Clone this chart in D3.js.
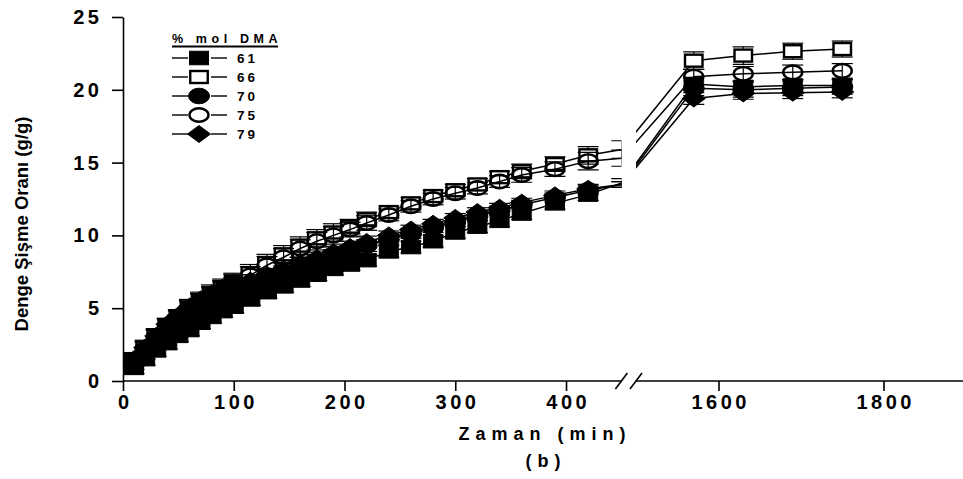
<!DOCTYPE html>
<html>
<head>
<meta charset="utf-8">
<script src="https://cdn.jsdelivr.net/npm/d3@7"></script>
<style>
  body { margin: 0; background: #fff; }
  svg { display: block; }
  text { font-family: "Liberation Sans", Arial, sans-serif; font-weight: bold; fill: #000; }
</style>
</head>
<body>
<svg id="chart" width="963" height="479"></svg>
<script>
// Sampling times (min); 480 sits inside the axis break, 1570+ are on the right segment
const times = [10, 20, 30, 40, 50, 60, 70, 80, 90, 100, 115, 130, 145, 160, 175, 190, 205, 220,
  240, 260, 280, 300, 320, 340, 360, 390, 420, 480, 1570, 1630, 1690, 1750];

// % mol DMA series
const seriesNames = ["61", "66", "70", "75", "79"];

const swell61 = [0.9, 1.5, 2.1, 2.6, 3.1, 3.5, 4.0, 4.4, 4.8, 5.1, 5.6, 6.1, 6.5, 6.9, 7.3, 7.7, 8.0, 8.3,
  8.9, 9.2, 9.6, 10.2, 10.6, 11.0, 11.5, 12.2, 12.8, 13.6, 20.4, 20.2, 20.3, 20.3];
const swell66 = [1.5, 2.3, 3.1, 3.8, 4.4, 5.0, 5.5, 6.0, 6.4, 6.8, 7.4, 8.1, 8.7, 9.3, 9.8, 10.2, 10.6, 11.1,
  11.6, 12.2, 12.7, 13.1, 13.5, 14.0, 14.4, 14.9, 15.5, 15.9, 22.0, 22.35, 22.65, 22.8];
const swell70 = [1.2, 1.9, 2.6, 3.2, 3.8, 4.3, 4.8, 5.2, 5.6, 6.0, 6.5, 7.0, 7.4, 7.8, 8.2, 8.6, 8.9, 9.3,
  9.7, 10.1, 10.5, 10.9, 11.3, 11.7, 12.1, 12.6, 13.1, 13.5, 20.1, 20.0, 20.1, 20.2];
const swell75 = [1.4, 2.2, 3.0, 3.7, 4.3, 4.9, 5.4, 5.9, 6.3, 6.7, 7.25, 7.95, 8.5, 9.1, 9.6, 10.0, 10.4, 10.85,
  11.4, 12.0, 12.5, 12.9, 13.25, 13.7, 14.15, 14.55, 15.1, 15.3, 20.9, 21.1, 21.2, 21.3];
const swell79 = [1.5, 2.3, 3.1, 3.9, 4.5, 5.1, 5.6, 6.0, 6.4, 6.7, 6.9, 7.3, 7.7, 8.1, 8.45, 8.85, 9.2, 9.55,
  10.0, 10.4, 10.8, 11.2, 11.6, 11.9, 12.25, 12.75, 13.2, 13.5, 19.4, 19.75, 19.8, 19.85];

// standard deviations
const err61 = [0.4, 0.4, 0.4, 0.4, 0.4, 0.4, 0.4, 0.4, 0.4, 0.4, 0.4, 0.4, 0.4, 0.4, 0.4, 0.4, 0.4, 0.4,
  0.4, 0.4, 0.4, 0.4, 0.4, 0.4, 0.4, 0.4, 0.4, 0.3, 0.4, 0.4, 0.4, 0.4];
const err66 = [0.4, 0.5, 0.5, 0.5, 0.5, 0.6, 0.6, 0.6, 0.6, 0.6, 0.6, 0.6, 0.6, 0.6, 0.6, 0.6, 0.5, 0.5,
  0.4, 0.4, 0.4, 0.4, 0.4, 0.4, 0.5, 0.5, 0.6, 0.6, 0.6, 0.6, 0.55, 0.55];
const err70 = [0.4, 0.4, 0.4, 0.4, 0.4, 0.4, 0.4, 0.4, 0.4, 0.4, 0.4, 0.4, 0.4, 0.4, 0.4, 0.4, 0.4, 0.4,
  0.3, 0.3, 0.3, 0.3, 0.3, 0.3, 0.3, 0.3, 0.3, 0.2, 0.5, 0.5, 0.5, 0.5];
const err75 = [0.4, 0.5, 0.5, 0.5, 0.5, 0.6, 0.6, 0.6, 0.6, 0.6, 0.6, 0.6, 0.6, 0.6, 0.6, 0.6, 0.5, 0.5,
  0.4, 0.4, 0.4, 0.4, 0.4, 0.4, 0.5, 0.5, 0.6, 0.55, 0.5, 0.5, 0.5, 0.5];
const err79 = [0.4, 0.4, 0.4, 0.4, 0.4, 0.4, 0.4, 0.4, 0.4, 0.4, 0.4, 0.4, 0.4, 0.4, 0.4, 0.4, 0.4, 0.4,
  0.3, 0.3, 0.3, 0.3, 0.3, 0.3, 0.3, 0.3, 0.3, 0.2, 0.4, 0.4, 0.4, 0.4];

const xTicks = [0, 100, 200, 300, 400, 1600, 1800];
const yTicks = [0, 5, 10, 15, 20, 25];

const values = [swell61, swell66, swell70, swell75, swell79];
const errors = [err61, err66, err70, err75, err79];
const symbols = ["square-filled", "square-open", "circle-filled", "circle-open", "diamond-filled"];

const svg = d3.select("#chart");
svg.append("rect").attr("width", 963).attr("height", 479).attr("fill", "#fff");

// broken x axis: 0-450 and 1500-1900
const x = d3.scaleLinear().domain([0, 450, 1500, 1900]).range([123, 621.4, 636, 966]);
const y = d3.scaleLinear().domain([0, 25]).range([381, 17]);

const leftEnd = x(450), rightStart = x(1500);

// clip to both axis segments
const clip = svg.append("defs").append("clipPath").attr("id", "plotClip");
clip.append("rect").attr("x", x(0)).attr("y", 0).attr("width", leftEnd - x(0)).attr("height", 479);
clip.append("rect").attr("x", rightStart).attr("y", 0).attr("width", 963 - rightStart).attr("height", 479);

// symbol helper
function drawSymbol(g, kind, cx, cy, openFill) {
  const filled = kind.endsWith("filled");
  const sw = filled ? 1 : 2.4;
  if (kind.startsWith("square")) {
    const w = filled ? 19 : 17.5, h = filled ? 13.5 : 12;
    g.append("rect")
      .attr("x", cx - w / 2).attr("y", cy - h / 2)
      .attr("width", w).attr("height", h)
      .attr("fill", filled ? "#000" : "#fff")
      .attr("stroke", "#000").attr("stroke-width", sw);
  } else if (kind.startsWith("circle")) {
    g.append("ellipse")
      .attr("cx", cx).attr("cy", cy)
      .attr("rx", filled ? 10.5 : 9.5).attr("ry", filled ? 7.8 : 6.8)
      .attr("fill", filled ? "#000" : (openFill || "none"))
      .attr("stroke", "#000").attr("stroke-width", sw);
  } else {
    g.append("path")
      .attr("d", `M${cx - 11.5},${cy} L${cx},${cy - 8.5} L${cx + 11.5},${cy} L${cx},${cy + 8.5} Z`)
      .attr("fill", "#000").attr("stroke", "#000").attr("stroke-width", 1);
  }
}

const plot = svg.append("g").attr("clip-path", "url(#plotClip)");

values.forEach((vals, si) => {
  const pts = times.map((t, i) => ({ t, v: vals[i], e: errors[si][i] }));
  const g = plot.append("g").attr("class", "series-" + seriesNames[si]);

  g.append("path")
    .datum(pts)
    .attr("d", d3.line().x(d => x(d.t)).y(d => y(d.v)))
    .attr("fill", "none")
    .attr("stroke", "#000")
    .attr("stroke-width", 1.5);

  pts.forEach(d => {
    const cx = x(d.t);
    g.append("line").attr("x1", cx).attr("x2", cx)
      .attr("y1", y(d.v - d.e)).attr("y2", y(d.v + d.e))
      .attr("stroke", "#000").attr("stroke-width", 1.2);
    [d.v - d.e, d.v + d.e].forEach(v => {
      g.append("line").attr("x1", cx - 10.5).attr("x2", cx + 10.5)
        .attr("y1", y(v)).attr("y2", y(v))
        .attr("stroke", "#000").attr("stroke-width", 1.2);
    });
  });

  // symbols only for points that lie on a drawn axis segment
  pts.filter(d => d.t <= 450 || d.t >= 1500)
    .forEach(d => drawSymbol(g, symbols[si], x(d.t), y(d.v)));
});

// axes
const axisG = svg.append("g");
const tickFont = g => g.selectAll(".tick text")
  .attr("font-size", 20).attr("letter-spacing", 3.5)
  .attr("font-family", "Liberation Sans, Arial, sans-serif").attr("font-weight", "bold");

// y axis
const yAxis = axisG.append("g")
  .attr("transform", `translate(${x(0)},0)`)
  .call(d3.axisLeft(y).tickValues(yTicks).tickSize(11).tickSizeOuter(0).tickPadding(13));
yAxis.select(".domain").attr("stroke-width", 1.6);
yAxis.selectAll(".tick line").attr("stroke-width", 1.6);
yAxis.call(tickFont);
yAxis.selectAll(".tick text").attr("dx", 3.5);

// x axis
const xAxis = axisG.append("g")
  .attr("transform", `translate(0,${y(0)})`)
  .call(d3.axisBottom(x).tickValues(xTicks).tickFormat(d3.format("d"))
    .tickSize(10).tickSizeOuter(0).tickPadding(4));
xAxis.select(".domain").remove();
xAxis.selectAll(".tick line").attr("stroke-width", 1.6);
xAxis.call(tickFont);
xAxis.selectAll(".tick text").attr("dx", 1.75);

axisG.append("line").attr("x1", x(0)).attr("x2", leftEnd)
  .attr("y1", y(0)).attr("y2", y(0)).attr("stroke", "#000").attr("stroke-width", 1.6);
axisG.append("line").attr("x1", rightStart).attr("x2", 963)
  .attr("y1", y(0)).attr("y2", y(0)).attr("stroke", "#000").attr("stroke-width", 1.6);

// break marks
[leftEnd, rightStart].forEach(bx => {
  axisG.append("line")
    .attr("x1", bx - 6).attr("y1", y(0) + 8)
    .attr("x2", bx + 6).attr("y2", y(0) - 8)
    .attr("stroke", "#000").attr("stroke-width", 1.6);
});

// axis titles
svg.append("text")
  .attr("transform", `translate(28,224) rotate(-90)`)
  .attr("text-anchor", "middle")
  .attr("font-size", 18.5)
  .text("Denge Şişme Oranı (g/g)");

svg.append("text")
  .attr("x", 545).attr("y", 440)
  .attr("text-anchor", "middle")
  .attr("font-size", 18).attr("letter-spacing", 6)
  .text("Zaman (min)");

svg.append("text")
  .attr("x", 546).attr("y", 467)
  .attr("text-anchor", "middle")
  .attr("font-size", 18).attr("letter-spacing", 6)
  .text("(b)");

// legend
const legend = svg.append("g").attr("transform", "translate(172,0)");
legend.append("text")
  .attr("x", 0).attr("y", 43)
  .attr("font-size", 12.5).attr("letter-spacing", 4.6)
  .text("% mol DMA");
legend.append("line")
  .attr("x1", 0).attr("x2", 106).attr("y1", 46.5).attr("y2", 46.5)
  .attr("stroke", "#000").attr("stroke-width", 2);

seriesNames.forEach((name, i) => {
  const ly = 58 + i * 19;
  const row = legend.append("g");
  row.append("line").attr("x1", 0).attr("x2", 16).attr("y1", ly).attr("y2", ly)
    .attr("stroke", "#000").attr("stroke-width", 1.4);
  row.append("line").attr("x1", 39).attr("x2", 55).attr("y1", ly).attr("y2", ly)
    .attr("stroke", "#000").attr("stroke-width", 1.4);
  drawSymbol(row, symbols[i], 27, ly, "#fff");
  row.append("text")
    .attr("x", 65).attr("y", ly + 5)
    .attr("font-size", 13.5).attr("letter-spacing", 3)
    .text(name);
});
</script>
</body>
</html>
